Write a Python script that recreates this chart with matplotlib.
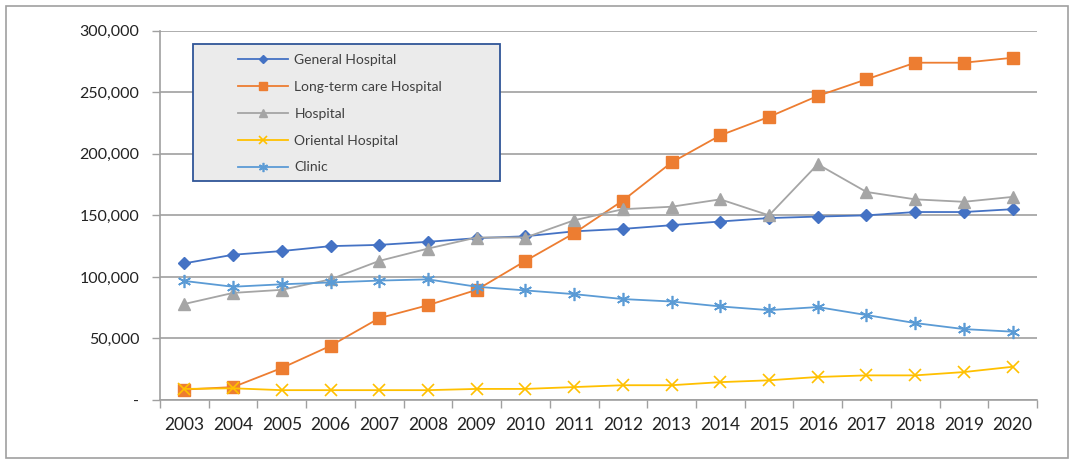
import numpy as np
import matplotlib
matplotlib.use('Agg')
import matplotlib.pyplot as plt
import matplotlib.patches as patches
from matplotlib.ticker import FuncFormatter

plt.rcParams['font.family'] = ['Lato', 'DejaVu Sans']

years = [str(y) for y in range(2003, 2021)]
general = [111000, 118000, 121000, 125000, 126000, 128500, 131500, 133000, 137000,
           139000, 142000, 145000, 147800, 149000, 150000, 152700, 152700, 155000]
longterm = [8500, 10500, 26000, 44000, 66500, 77000, 89500, 113000, 135500,
            162000, 193000, 215000, 230000, 247000, 260500, 274000, 274000, 278000]
hospital = [78000, 87000, 89500, 98000, 113000, 123000, 132000, 132000, 146000,
            155000, 157000, 163000, 150000, 191500, 169000, 163000, 161000, 165000]
oriental = [9000, 9500, 8000, 8000, 8000, 8000, 9000, 9000, 10500,
            12000, 12000, 14500, 16000, 18700, 20000, 20000, 22700, 27000]
clinic = [96700, 92000, 94000, 95500, 97000, 98000, 92000, 89000, 86000,
          82000, 80000, 76000, 73000, 75500, 69000, 62500, 57600, 55500]

W, H = 1072, 459
fig = plt.figure(figsize=(W/100, H/100), dpi=100)
ax = fig.add_axes([160/W, 1-400/H, (1037-160)/W, (400-30.7)/H])

x = np.arange(len(years))
ax.plot(x, general, color='#4472C4', marker='D', markersize=6, lw=1.3, label='General Hospital')
ax.plot(x, longterm, color='#ED7D31', marker='s', markersize=8.5, lw=1.3, label='Long-term care Hospital')
ax.plot(x, hospital, color='#A5A5A5', marker='^', markersize=8, lw=1.3, label='Hospital')
ax.plot(x, oriental, color='#FFC000', marker='x', markersize=8.5, mew=1.2, lw=1.3, label='Oriental Hospital')
ax.plot(x, clinic, color='#5B9BD5', marker=(6, 2, 0), markersize=9.5, mew=1.2, lw=1.3, label='Clinic')

ax.set_xlim(-0.5, len(years) - 0.5)
ax.set_ylim(0, 300000)
ax.set_yticks(np.arange(0, 300001, 50000))
ax.yaxis.set_major_formatter(FuncFormatter(lambda v, p: '-' if v == 0 else f'{int(v):,}'))
ax.set_xticks(x)
ax.set_xticklabels(years)
ax.set_xticks(np.arange(-0.5, len(years), 1), minor=True)
ax.tick_params(axis='x', which='major', length=0, labelsize=12.5, pad=12, colors='#222222')
ax.tick_params(axis='x', which='minor', length=6, width=1, color='#a0a0a0')
ax.tick_params(axis='y', length=6, width=1, color='#a0a0a0', labelsize=11.5, pad=9, labelcolor='#222222')

ax.grid(axis='y', color='#a0a0a0', lw=1.2)
ax.set_axisbelow(True)
for s in ['top', 'right']:
    ax.spines[s].set_visible(False)
ax.spines['left'].set_color('#a0a0a0')
ax.spines['bottom'].set_color('#a0a0a0')
ax.spines['left'].set_linewidth(1.2)
ax.spines['bottom'].set_linewidth(1.2)

# legend box drawn by hand, entries placed inside it
box = patches.Rectangle((193/W, 1-181/H), (500-193)/W, (181-44)/H,
                        transform=fig.transFigure, facecolor='#ebebeb',
                        edgecolor='#2F5597', lw=1.3, zorder=5, clip_on=False)
ax.add_patch(box)
leg = ax.legend(loc='upper left', bbox_to_anchor=(238/W, 1-54/H),
                bbox_transform=fig.transFigure,
                fontsize=10, frameon=False, markerscale=0.7,
                handlelength=3.6, labelspacing=1.07, borderpad=0, handletextpad=0.45,
                borderaxespad=0)
leg.set_zorder(6)
for t in leg.get_texts():
    t.set_color('#404040')

fig.patches.append(patches.Rectangle((6/W, 1-458/H), 1062/W, 452/H,
                                     transform=fig.transFigure, fill=False,
                                     edgecolor='#a0a0a0', lw=1.2))

plt.savefig('out.png', dpi=100)
plt.close()
